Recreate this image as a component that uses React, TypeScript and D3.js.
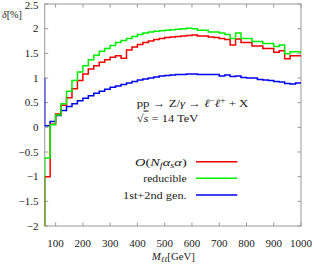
import React from "react";
import * as d3 from "d3";

// bin lower edges (GeV); last bin ends at 1000
const binEdges = [60, 80, 100, 120, 140, 160, 180, 200, 220, 240, 260, 280, 300, 320, 340, 360, 380, 400, 420, 440, 460, 480, 500, 520, 540, 560, 580, 600, 620, 640, 660, 680, 700, 720, 740, 760, 780, 800, 820, 840, 860, 880, 900, 920, 940, 960, 980];
const lastEdge = 1000;

// value of the bin just left of the plotted range (drawn as the vertical at the left edge)
const priorValues = { red: -3, green: -3, blue: 1.0 };

const redValues = [-1.0, 0.06, 0.27, 0.45, 0.6, 0.78, 0.95, 1.08, 1.18, 1.25, 1.32, 1.37, 1.42, 1.45, 1.4, 1.57, 1.63, 1.68, 1.72, 1.75, 1.78, 1.8, 1.82, 1.83, 1.84, 1.85, 1.86, 1.87, 1.85, 1.85, 1.83, 1.82, 1.8, 1.78, 1.67, 1.79, 1.72, 1.72, 1.65, 1.65, 1.6, 1.6, 1.52, 1.55, 1.39, 1.45, 1.45];
const greenValues = [-0.62, 0.05, 0.25, 0.48, 0.73, 0.95, 1.12, 1.25, 1.37, 1.46, 1.54, 1.6, 1.66, 1.72, 1.76, 1.8, 1.84, 1.88, 1.91, 1.93, 1.95, 1.96, 1.97, 1.98, 1.99, 2.0, 2.01, 2.0, 1.97, 1.97, 1.93, 1.93, 1.91, 1.88, 1.8, 1.91, 1.8, 1.8, 1.74, 1.74, 1.7, 1.7, 1.64, 1.67, 1.49, 1.53, 1.53];
const blueValues = [0.03, 0.12, 0.24, 0.34, 0.42, 0.48, 0.54, 0.59, 0.64, 0.69, 0.73, 0.77, 0.81, 0.84, 0.87, 0.9, 0.93, 0.96, 0.98, 1.0, 1.02, 1.04, 1.05, 1.06, 1.07, 1.07, 1.08, 1.08, 1.07, 1.07, 1.07, 1.07, 1.04, 1.06, 1.03, 1.04, 1.01, 1.0, 1.0, 0.97, 0.96, 0.95, 0.93, 0.92, 0.89, 0.88, 0.9];

const xTicks = [100, 200, 300, 400, 500, 600, 700, 800, 900, 1000];
const yTicks = [-2, -1.5, -1, -0.5, 0, 0.5, 1, 1.5, 2, 2.5];

const W = 314;
const H = 265;
const margin = { left: 44.7, right: 13, top: 4, bottom: 39 };
const FONT = "'Liberation Serif', 'DejaVu Serif', serif";
const FS = 11;
const COLORS = { red: "#f00000", green: "#00ee00", blue: "#0000f0" };

export default function App() {
  const x = d3.scaleLinear().domain([60, 1000]).range([margin.left, W - margin.right]);
  const y = d3.scaleLinear().domain([-2, 2.5]).range([H - margin.bottom, margin.top]);

  const line = d3
    .line<[number, number]>()
    .x((d) => x(d[0]))
    .y((d) => y(d[1]))
    .curve(d3.curveStepAfter);

  const makePath = (vals: number[], prior: number) => {
    const pts: [number, number][] = [[binEdges[0], prior]];
    vals.forEach((v, i) => pts.push([binEdges[i], v]));
    pts.push([lastEdge, vals[vals.length - 1]]);
    return line(pts) || "";
  };

  const x0 = x(60), x1 = x(1000), yTop = y(2.5), yBot = y(-2);
  const fmt = (v: number) => (v < 0 ? "\u2212" + String(-v) : String(v));
  const tick = 3.5;
  const frameColor = "#999";
  const txt = "#222";

  const legend = [
    { key: "red", yPos: 161.7 },
    { key: "green", yPos: 178.3 },
    { key: "blue", yPos: 195 },
  ];

  return (
    <svg width={W} height={H} style={{ position: "absolute", left: 0, top: 0, background: "#fff" }} fontFamily={FONT}>
      <defs>
        <clipPath id="plotClip">
          <rect x={x0} y={yTop} width={x1 - x0} height={yBot - yTop} />
        </clipPath>
      </defs>
      {/* frame */}
      <rect x={x0} y={yTop} width={x1 - x0} height={yBot - yTop} fill="none" stroke={frameColor} strokeWidth={1} />
      {/* ticks */}
      {xTicks.map((t) => (
        <g key={"xt" + t}>
          <line x1={x(t)} x2={x(t)} y1={yBot} y2={yBot - tick} stroke={frameColor} />
          <line x1={x(t)} x2={x(t)} y1={yTop} y2={yTop + tick} stroke={frameColor} />
          <text x={x(t)} y={247} fontSize={FS} textAnchor="middle" fill={txt}>{t}</text>
        </g>
      ))}
      {yTicks.map((t) => (
        <g key={"yt" + t}>
          <line x1={x0} x2={x0 + tick} y1={y(t)} y2={y(t)} stroke={frameColor} />
          <line x1={x1} x2={x1 - tick} y1={y(t)} y2={y(t)} stroke={frameColor} />
          <text x={38.5} y={Math.max(y(t) + 3.6, 8.6)} fontSize={FS} textAnchor="end" fill={txt}>{fmt(t)}</text>
        </g>
      ))}
      {/* axis labels */}
      <text x={2} y={17.5} fontSize={FS} fill={txt} textLength={20} lengthAdjust="spacingAndGlyphs">
        <tspan fontStyle="italic">δ</tspan>[%]
      </text>
      <text x={151.7} y={259.5} fontSize={FS} fill={txt} textLength={43.3} lengthAdjust="spacingAndGlyphs">
        <tspan fontStyle="italic">M</tspan>
        <tspan fontStyle="italic" fontSize={8} dy={2}>ℓℓ</tspan>
        <tspan dy={-2}>[GeV]</tspan>
      </text>
      {/* series */}
      <g clipPath="url(#plotClip)" fill="none" strokeWidth={1.5}>
        <path d={makePath(blueValues, priorValues.blue)} stroke={COLORS.blue} />
        <path d={makePath(redValues, priorValues.red)} stroke={COLORS.red} />
        <path d={makePath(greenValues, priorValues.green)} stroke={COLORS.green} />
      </g>
      {/* process annotation */}
      <text x={136.7} y={107} fontSize={FS} fill={txt} textLength={111.6} lengthAdjust="spacingAndGlyphs">
        pp → Z/<tspan fontStyle="italic">γ</tspan> → <tspan fontStyle="italic">ℓ</tspan>
        <tspan fontSize={8} dy={-4}>−</tspan>
        <tspan fontStyle="italic" dy={4}>ℓ</tspan>
        <tspan fontSize={8} dy={-4}>+</tspan>
        <tspan dy={4}> + X</tspan>
      </text>
      <text x={136.7} y={121.5} fontSize={FS} fill={txt} textLength={61.6} lengthAdjust="spacingAndGlyphs">
        √<tspan fontStyle="italic" textDecoration="overline">s</tspan> = 14 TeV
      </text>
      {/* legend */}
      <text x={135} y={legend[0].yPos + 3.8} fontSize={FS} fill={txt} textLength={51.7} lengthAdjust="spacingAndGlyphs">
        <tspan fontStyle="italic">O</tspan>(<tspan fontStyle="italic">N</tspan>
        <tspan fontStyle="italic" fontSize={8} dy={2}>f</tspan>
        <tspan fontStyle="italic" dy={-2}>α</tspan>
        <tspan fontStyle="italic" fontSize={8} dy={2}>s</tspan>
        <tspan fontStyle="italic" dy={-2}>α</tspan>)
      </text>
      <text x={143.3} y={legend[1].yPos + 3.8} fontSize={FS} fill={txt} textLength={43.4} lengthAdjust="spacingAndGlyphs">reducible</text>
      <text x={123} y={legend[2].yPos + 3.8} fontSize={FS} fill={txt} textLength={63.7} lengthAdjust="spacingAndGlyphs">1st+2nd gen.</text>
      {legend.map((l) => (
        <line key={l.key} x1={196} x2={237.3} y1={l.yPos} y2={l.yPos} stroke={(COLORS as any)[l.key]} strokeWidth={1.5} />
      ))}
    </svg>
  );
}
